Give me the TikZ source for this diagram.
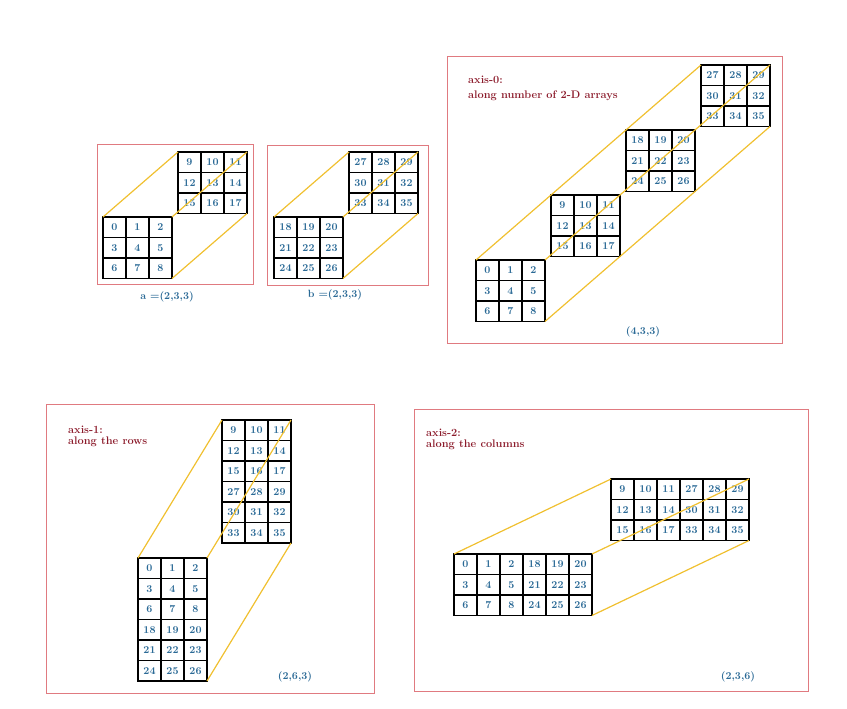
\documentclass[tikz,border=0pt]{standalone}
\usetikzlibrary{calc}
\definecolor{framered}{HTML}{E07A80}
\definecolor{numblue}{HTML}{2B6A96}
\definecolor{axisred}{HTML}{8C1C2C}
\definecolor{linkyellow}{HTML}{F0C030}
\tikzset{
  block/.style={draw, line width=1.6pt, minimum width=69pt, minimum height=61.5pt,
    inner sep=0pt, outer sep=0pt},
  gridline/.style={line width=1.3pt},
  cellnum/.style={text=numblue, font=\fontsize{10.5}{12}\selectfont\bfseries, inner sep=0pt},
  panel/.style={draw=framered, line width=0.8pt},
  link/.style={draw=linkyellow, line width=1.2pt},
  axislabel/.style={text=axisred, font=\fontsize{11}{13}\selectfont\bfseries,
    anchor=base west, inner sep=0pt},
  shapelabel/.style={text=numblue, font=\fontsize{10.5}{12}\selectfont\bfseries, inner sep=0pt},
}
% one 3x3 block of numbers: name, x, y (top left), first number
\newcommand{\numblock}[4]{%
  \node[block, anchor=north west] (#1) at (#2,#3) {};
  \foreach \k in {1,2} {
    \draw[gridline] ($(#1.north west)+(\k*23,0)$) -- +(0,61.5);
    \draw[gridline] ($(#1.north west)+(0,\k*20.5)$) -- +(69,0);
  }
  \foreach \r in {0,1,2} {
    \foreach \c in {0,1,2} {
      \pgfmathtruncatemacro{\n}{#4+3*\r+\c}
      \node[cellnum] (#1-\n) at ($(#1.north west)+(\c*23+11.5,\r*20.5+10.5)$) {\n};
    }
  }
}
\begin{document}
\begin{tikzpicture}[x=1pt, y=-1pt]
  \useasboundingbox (0,0) rectangle (847,709);
  % Frames
  \draw[panel] (97,144) rectangle (253,284);
  \draw[panel] (267,145) rectangle (428,285);
  \draw[panel] (447,56) rectangle (782,343);
  \draw[panel] (46,404) rectangle (374,693);
  \draw[panel] (414,409) rectangle (808,691);

  % a and b
  \numblock{A0}{103}{217}{0}
  \numblock{A1}{178}{152}{9}
  \numblock{B0}{274}{217}{18}
  \numblock{B1}{349}{152}{27}
  \foreach \c in {north west, north east, south east} {
    \draw[link] (A0.\c) -- (A1.\c);
    \draw[link] (B0.\c) -- (B1.\c);
  }
  \node[shapelabel] (lblA) at (167,297) {a =(2,3,3)};
  \node[shapelabel] (lblB) at (335,295) {b =(2,3,3)};

  % axis-0
  \numblock{C0}{476}{260}{0}
  \numblock{C1}{551}{195}{9}
  \numblock{C2}{626}{130}{18}
  \numblock{C3}{701}{65}{27}
  \foreach \c in {north west, north east, south east}
    \draw[link] (C0.\c) -- (C3.\c);
  \node[axislabel] (ax0) at (468,84) {axis-0:};
  \node[axislabel] (ax0txt) at (468,99) {along number of 2-D arrays};
  \node[shapelabel] (shp0) at (643,332) {(4,3,3)};

  % axis-1
  \numblock{D0}{138}{558}{0}
  \numblock{D1}{138}{619.5}{18}
  \numblock{D2}{222}{420}{9}
  \numblock{D3}{222}{481.5}{27}
  \draw[link] (D0.north west) -- (D2.north west);
  \draw[link] (D0.north east) -- (D2.north east);
  \draw[link] (D1.south east) -- (D3.south east);
  \node[axislabel] (ax1) at (68,433) {axis-1:};
  \node[axislabel] (ax1txt) at (68,444.5) {along the rows};
  \node[shapelabel] (shp1) at (295,677) {(2,6,3)};

  % axis-2
  \numblock{E0}{454}{554}{0}
  \numblock{E1}{523}{554}{18}
  \numblock{E2}{611}{479}{9}
  \numblock{E3}{680}{479}{27}
  \draw[link] (E0.north west) -- (E2.north west);
  \draw[link] (E1.north east) -- (E3.north east);
  \draw[link] (E1.south east) -- (E3.south east);
  \node[axislabel] (ax2) at (426,436) {axis-2:};
  \node[axislabel] (ax2txt) at (426,447.5) {along the columns};
  \node[shapelabel] (shp2) at (738,677) {(2,3,6)};
\end{tikzpicture}
\end{document}
